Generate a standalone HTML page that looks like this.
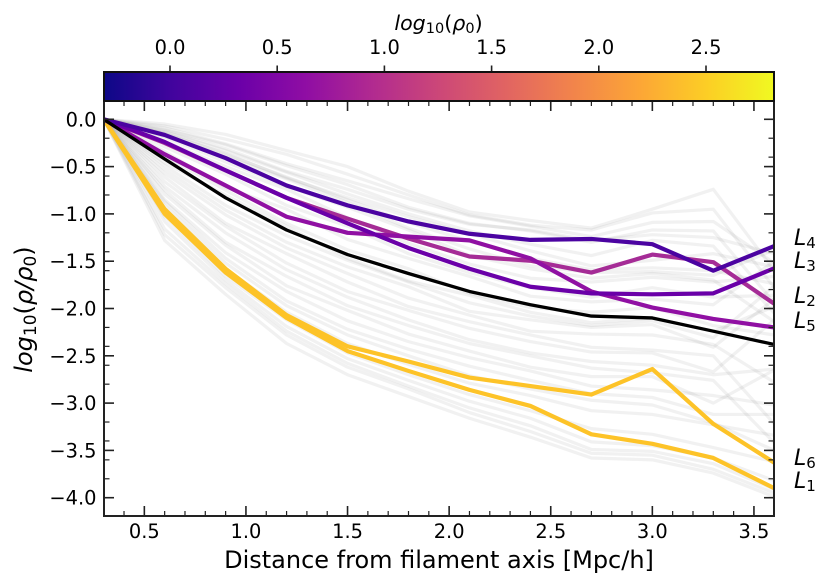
<!DOCTYPE html>
<html lang="en">
<head>
<meta charset="utf-8">
<title>Density profiles along filaments</title>
<style>
html,body{margin:0;padding:0;background:#fff;}
svg{display:block;font-family:"DejaVu Sans","Liberation Sans",sans-serif;fill:#000;}
</style>
</head>
<body>
<svg id="chart" xmlns="http://www.w3.org/2000/svg" width="831" height="588" viewBox="0 0 831 588">
  <defs>
    <linearGradient id="plasma" x1="0" x2="1" y1="0" y2="0">
      <stop offset="0" stop-color="#0d0887"/><stop offset=".1" stop-color="#41049d"/>
      <stop offset=".2" stop-color="#6a00a8"/><stop offset=".3" stop-color="#8f0da4"/>
      <stop offset=".4" stop-color="#b12a90"/><stop offset=".5" stop-color="#cc4778"/>
      <stop offset=".6" stop-color="#e16462"/><stop offset=".7" stop-color="#f2844b"/>
      <stop offset=".8" stop-color="#fca636"/><stop offset=".9" stop-color="#fcce25"/>
      <stop offset="1" stop-color="#f0f921"/>
    </linearGradient>
    <clipPath id="plot-clip"><rect x="104" y="101" width="670" height="415"/></clipPath>
  </defs>

  <g id="gray-layer" clip-path="url(#plot-clip)" fill="none"></g>
  <g id="main-layer" clip-path="url(#plot-clip)" fill="none"></g>
  <g id="tick-layer" stroke="#222" fill="none"></g>
  <g id="label-layer" font-size="19.4"></g>

  <rect x="104" y="101" width="670" height="415" fill="none" stroke="#222" stroke-width="2"/>
  <rect x="104" y="72" width="670" height="29" fill="url(#plasma)" stroke="#111" stroke-width="2"/>

  <text x="438.5" y="30" font-size="20.6" text-anchor="middle"><tspan font-style="italic">log</tspan><tspan font-size="14.5" dy="3">10</tspan><tspan dy="-3">(</tspan><tspan font-style="italic">ρ</tspan><tspan font-size="14.5" dy="3">0</tspan><tspan dy="-3">)</tspan></text>
  <text x="439" y="568" font-size="24" text-anchor="middle">Distance from filament axis [Mpc/h]</text>
  <text transform="translate(32,309.5) rotate(-90)" font-size="24" text-anchor="middle"><tspan font-style="italic">log</tspan><tspan font-size="17" dy="4">10</tspan><tspan dy="-4">(</tspan><tspan font-style="italic">ρ/ρ</tspan><tspan font-size="17" dy="4">0</tspan><tspan dy="-4">)</tspan></text>

  <g id="line-labels" font-size="22"></g>
</svg>

<script>
// ---- data ----
const distances = [0.3, 0.6, 0.9, 1.2, 1.5, 1.8, 2.1, 2.4, 2.7, 3.0, 3.3, 3.6];

const medianProfile = [0, -0.42, -0.83, -1.17, -1.43, -1.63, -1.82, -1.96, -2.08, -2.10, -2.24, -2.38];
const profileL1 = [0, -1.00, -1.62, -2.10, -2.45, -2.66, -2.86, -3.03, -3.33, -3.43, -3.58, -3.90];
const profileL2 = [0, -0.25, -0.54, -0.83, -1.05, -1.26, -1.45, -1.495, -1.62, -1.43, -1.51, -1.95];
const profileL3 = [0, -0.24, -0.54, -0.83, -1.10, -1.36, -1.58, -1.77, -1.84, -1.85, -1.84, -1.575];
const profileL4 = [0, -0.165, -0.41, -0.70, -0.91, -1.08, -1.21, -1.275, -1.265, -1.32, -1.60, -1.34];
const profileL5 = [0, -0.37, -0.70, -1.03, -1.20, -1.24, -1.28, -1.47, -1.82, -1.99, -2.11, -2.20];
const profileL6 = [0, -0.95, -1.58, -2.07, -2.40, -2.56, -2.73, -2.82, -2.91, -2.64, -3.22, -3.63];

const backgroundProfiles = [
  [0,-.05,-.16,-.33,-.50,-.76,-.98,-1.07,-1.15,-.95,-.74,-1.60],
  [0,-.07,-.21,-.37,-.58,-.80,-1.01,-1.12,-1.17,-.99,-.95,-1.78],
  [0,-.09,-.26,-.47,-.65,-.84,-1.02,-1.13,-1.24,-1.09,-1.08,-1.52],
  [0,-.11,-.27,-.49,-.69,-.93,-1.10,-1.18,-1.30,-1.17,-1.18,-1.94],
  [0,-.12,-.31,-.55,-.74,-.95,-1.11,-1.17,-1.28,-1.22,-1.25,-1.42],
  [0,-.13,-.33,-.56,-.79,-1.00,-1.18,-1.32,-1.44,-1.28,-1.34,-2.05],
  [0,-.15,-.36,-.62,-.83,-1.03,-1.21,-1.39,-1.55,-1.49,-1.42,-1.56],
  [0,-.15,-.37,-.61,-.85,-1.09,-1.29,-1.47,-1.59,-1.57,-1.60,-1.74],
  [0,-.18,-.40,-.63,-.88,-1.15,-1.37,-1.55,-1.62,-1.61,-1.65,-1.38],
  [0,-.19,-.45,-.71,-.93,-1.17,-1.44,-1.58,-1.68,-1.63,-1.70,-2.14],
  [0,-.23,-.50,-.74,-1.04,-1.31,-1.53,-1.68,-1.72,-1.67,-1.72,-1.66],
  [0,-.29,-.58,-.91,-1.13,-1.42,-1.62,-1.78,-1.88,-1.78,-1.88,-1.86],
  [0,-.34,-.72,-.95,-1.27,-1.47,-1.66,-1.87,-1.93,-1.90,-1.96,-1.50],
  [0,-.39,-.75,-1.10,-1.38,-1.58,-1.84,-1.99,-2.04,-1.99,-2.18,-2.28],
  [0,-.46,-.80,-1.13,-1.47,-1.71,-1.86,-2.04,-2.15,-2.10,-2.24,-1.98],
  [0,-.49,-.91,-1.23,-1.49,-1.72,-1.94,-2.08,-2.18,-2.13,-2.31,-1.76],
  [0,-.53,-.96,-1.30,-1.56,-1.77,-2.03,-2.12,-2.20,-2.17,-2.41,-1.90],
  [0,-.57,-1.01,-1.36,-1.63,-1.89,-2.07,-2.24,-2.27,-2.28,-2.38,-2.78],
  [0,-.61,-1.10,-1.42,-1.72,-1.98,-2.14,-2.28,-2.41,-2.44,-2.50,-3.22],
  [0,-.66,-1.13,-1.52,-1.82,-2.02,-2.21,-2.35,-2.46,-2.47,-2.67,-2.12],
  [0,-.71,-1.20,-1.59,-1.88,-2.12,-2.33,-2.47,-2.56,-2.60,-2.70,-2.64],
  [0,-.75,-1.30,-1.66,-1.97,-2.18,-2.37,-2.50,-2.63,-2.68,-2.76,-3.42],
  [0,-.79,-1.33,-1.76,-2.02,-2.27,-2.45,-2.62,-2.72,-2.72,-3.00,-2.65],
  [0,-.85,-1.41,-1.82,-2.13,-2.35,-2.52,-2.66,-2.82,-2.86,-2.92,-3.02],
  [0,-.87,-1.47,-1.92,-2.22,-2.43,-2.61,-2.76,-2.90,-2.94,-3.12,-3.12],
  [0,-.91,-1.52,-1.97,-2.28,-2.50,-2.71,-2.85,-2.97,-3.02,-3.21,-3.50],
  [0,-.97,-1.58,-2.04,-2.37,-2.59,-2.79,-2.92,-3.08,-3.12,-3.23,-3.34],
  [0,-1.03,-1.66,-2.12,-2.47,-2.70,-2.91,-3.08,-3.27,-3.33,-3.47,-3.62],
  [0,-1.08,-1.70,-2.19,-2.53,-2.76,-2.98,-3.16,-3.41,-3.45,-3.58,-3.82],
  [0,-1.16,-1.74,-2.24,-2.58,-2.82,-3.05,-3.24,-3.49,-3.51,-3.64,-3.91],
  [0,-1.22,-1.78,-2.28,-2.62,-2.85,-3.10,-3.30,-3.53,-3.55,-3.70,-3.95],
  [0,-1.28,-1.85,-2.37,-2.70,-2.93,-3.16,-3.36,-3.58,-3.60,-3.74,-3.99]
];

const xMajorTicks = [0.5, 1.0, 1.5, 2.0, 2.5, 3.0, 3.5];
const xMinorTicks = [0.4, 0.6, 0.7, 0.8, 0.9, 1.1, 1.2, 1.3, 1.4, 1.6, 1.7, 1.8, 1.9, 2.1, 2.2, 2.3, 2.4, 2.6, 2.7, 2.8, 2.9, 3.1, 3.2, 3.3, 3.4, 3.6];
const yMajorTicks = [0, -0.5, -1.0, -1.5, -2.0, -2.5, -3.0, -3.5, -4.0];
const yMinorTicks = [-0.2, -0.4, -0.6, -0.8, -1.2, -1.4, -1.6, -1.8, -2.2, -2.4, -2.6, -2.8, -3.2, -3.4, -3.6, -3.8, -4.2];
const colorbarTicks = [0.0, 0.5, 1.0, 1.5, 2.0, 2.5];

// ---- axis functions ----
const SVGNS = 'http://www.w3.org/2000/svg';
function xScale(v) { return 103.7 + (v - 0.3) * 203.2; }
function yScale(v) { return 119.3 - v * 94.6; }
function cbScale(v) { return 170 + v * 214.4; }
function pathFor(values) {
  return values.map(function (v, i) {
    return (i ? 'L' : 'M') + xScale(distances[i]).toFixed(2) + ' ' + yScale(v).toFixed(2);
  }).join('');
}
function make(tag, parent, attrs) {
  const el = document.createElementNS(SVGNS, tag);
  Object.keys(attrs).forEach(function (k) { el.setAttribute(k, attrs[k]); });
  parent.appendChild(el);
  return el;
}
function fmt(v) { return v.toFixed(1).replace('-', '\u2212'); }

// ---- background profiles ----
const grayLayer = document.getElementById('gray-layer');
backgroundProfiles.forEach(function (values) {
  const p = make('path', grayLayer, { d: pathFor(values), stroke: '#808080', 'stroke-opacity': '0.11', 'stroke-width': '3.2', 'stroke-linejoin': 'round' });
  
  
});

// ---- highlighted profiles ----
const mainLayer = document.getElementById('main-layer');
function drawMain(values, color, width, name) {
  const p = make('path', mainLayer, { d: pathFor(values), stroke: color, 'stroke-width': width, 'stroke-linejoin': 'round' });
  
  
}
drawMain(profileL1, '#fdc328', 4.2, 'profile-l1');
drawMain(profileL6, '#fdc328', 4.2, 'profile-l6');
drawMain(profileL2, '#a52c96', 4.2, 'profile-l2');
drawMain(profileL5, '#9010a3', 4.2, 'profile-l5');
drawMain(profileL3, '#6a00a8', 4.2, 'profile-l3');
drawMain(profileL4, '#4b03a1', 4.2, 'profile-l4');
drawMain(medianProfile, '#000000', 3.3, 'median-profile');

// ---- ticks ----
const tickLayer = document.getElementById('tick-layer');
const labelLayer = document.getElementById('label-layer');
function tick(x1, y1, x2, y2, w, name) {
  const t = make('line', tickLayer, { x1: x1, y1: y1, x2: x2, y2: y2, 'stroke-width': w });
  
  
}
function label(x, y, anchor, text, name) {
  const t = make('text', labelLayer, { x: x, y: y, 'text-anchor': anchor });
  t.textContent = text;
  
  
}
xMajorTicks.forEach(function (v) {
  const x = xScale(v);
  tick(x, 516, x, 506, 1.6, 'x-major-tick');
  tick(x, 101, x, 111, 1.6, 'x-major-tick-top');
  label(x, 538, 'middle', fmt(v), 'x-tick-label');
});
xMinorTicks.forEach(function (v) {
  const x = xScale(v);
  tick(x, 516, x, 511, 1.2, 'x-minor-tick');
  tick(x, 101, x, 106, 1.2, 'x-minor-tick-top');
});
yMajorTicks.forEach(function (v) {
  const y = yScale(v);
  tick(104, y, 114, y, 1.6, 'y-major-tick');
  tick(774, y, 764, y, 1.6, 'y-major-tick-right');
  label(96.5, y + 7, 'end', fmt(v), 'y-tick-label');
});
yMinorTicks.forEach(function (v) {
  const y = yScale(v);
  if (y > 516) return;
  tick(104, y, 109.5, y, 1.2, 'y-minor-tick');
  tick(774, y, 768.5, y, 1.2, 'y-minor-tick-right');
});
colorbarTicks.forEach(function (v) {
  const x = cbScale(v);
  tick(x, 72, x, 65.5, 1.6, 'colorbar-tick');
  label(x, 54, 'middle', fmt(v), 'colorbar-tick-label');
});

// ---- line labels ----
const lineLabels = document.getElementById('line-labels');
function drawLineLabel(n, baseline) {
  const t = make('text', lineLabels, { x: 794, y: baseline });
  
  
  const a = make('tspan', t, { 'font-style': 'italic' });
  a.textContent = 'L';
  const b = make('tspan', t, { 'font-size': '15', dy: '3' });
  b.textContent = n;
}
drawLineLabel('4', 245);
drawLineLabel('3', 268);
drawLineLabel('2', 303);
drawLineLabel('5', 328);
drawLineLabel('6', 465);
drawLineLabel('1', 488);
</script>
</body>
</html>
